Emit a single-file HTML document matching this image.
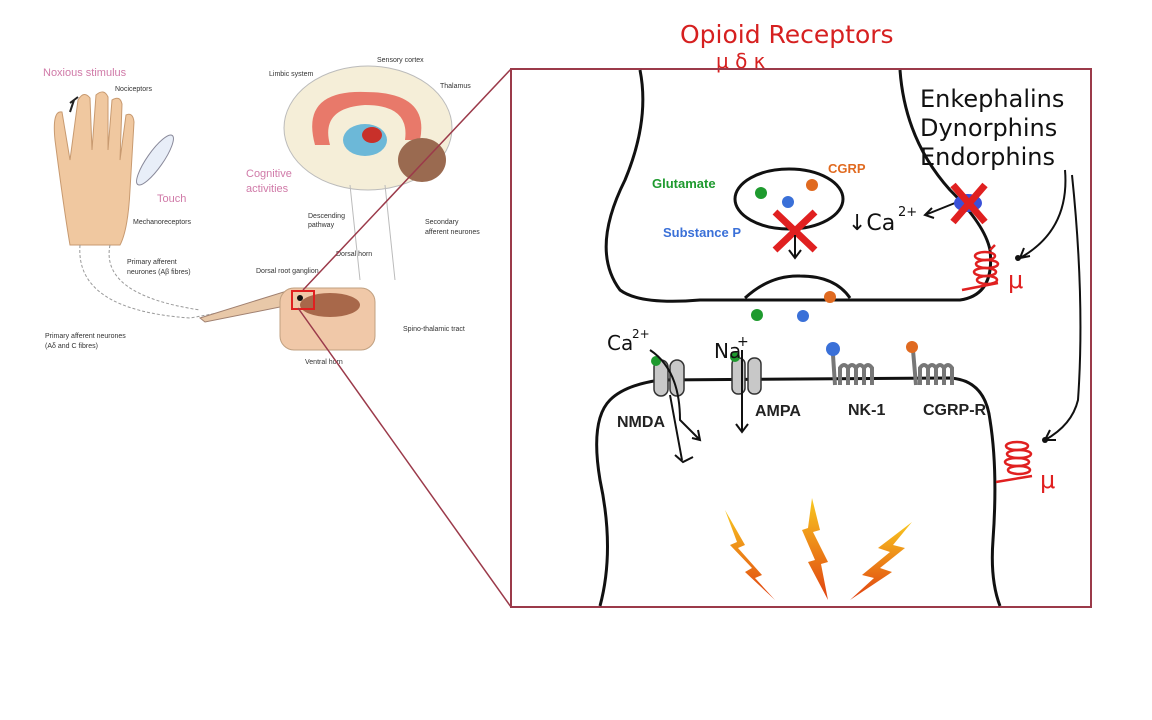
<!DOCTYPE html>
<html><head><meta charset="utf-8"><style>
html,body{margin:0;padding:0;background:#fff;}
svg{display:block}
.s{font-family:"Liberation Sans",sans-serif;font-size:7px;fill:#333}
.h{font-family:"Liberation Sans",sans-serif;font-weight:bold;font-size:16px;fill:#222}
.w{font-family:"DejaVu Sans","Liberation Sans",sans-serif;fill:#111}
</style></head><body>
<svg width="1152" height="720" viewBox="0 0 1152 720">
<rect width="1152" height="720" fill="#fff"/>
<text x="680" y="43" class="w" font-size="25" style="fill:#d62020">Opioid Receptors</text>
<text x="716" y="68" class="w" font-size="20" style="fill:#d62020">μ δ κ</text>

<!-- LEFT illustration -->
<text x="43" y="76" class="s" style="fill:#d07aa8;font-size:11px">Noxious stimulus</text>
<text x="115" y="91" class="s">Nociceptors</text>
<path d="M55,140 Q52,110 62,112 L70,160 L78,100 Q84,90 90,98 L92,150 L96,95 Q104,88 108,97 L108,150 L112,100 Q120,95 122,104 L120,160 L126,115 Q133,112 134,122 L130,190 Q128,230 120,245 L70,245 Q64,210 55,140Z" fill="#f0c8a0" stroke="#c89a70"/>
<path d="M70,103 l8,-6 M74,100 l-4,12" stroke="#222" stroke-width="2"/>
<ellipse cx="155" cy="160" rx="8" ry="30" transform="rotate(35 155 160)" fill="#e8eef8" stroke="#889"/>
<text x="157" y="202" class="s" style="fill:#d07aa8;font-size:11px">Touch</text>
<text x="133" y="224" class="s">Mechanoreceptors</text>
<text x="127" y="264" class="s">Primary afferent</text>
<text x="127" y="274" class="s">neurones (Aβ fibres)</text>
<text x="45" y="338" class="s">Primary afferent neurones</text>
<text x="45" y="348" class="s">(Aδ and C fibres)</text>
<path d="M80,245 Q75,310 190,318 L290,300 M110,245 Q100,295 200,310" fill="none" stroke="#999" stroke-dasharray="3,2"/>
<ellipse cx="368" cy="128" rx="84" ry="62" fill="#f5eed8" stroke="#bbb"/>
<path d="M315,145 Q300,90 365,92 Q430,92 420,140 L405,140 Q410,105 365,105 Q320,108 330,145Z" fill="#e8796a"/>
<ellipse cx="365" cy="140" rx="22" ry="16" fill="#6cb8d8"/>
<ellipse cx="372" cy="135" rx="10" ry="8" fill="#c8302a"/>
<ellipse cx="422" cy="160" rx="24" ry="22" fill="#9a6a50"/>
<path d="M350,185 L360,280 M385,185 L395,280" stroke="#bbb" fill="none"/>
<text x="269" y="76" class="s">Limbic system</text>
<text x="377" y="62" class="s">Sensory cortex</text>
<text x="440" y="88" class="s">Thalamus</text>
<text x="246" y="177" class="s" style="fill:#d07aa8;font-size:11px">Cognitive</text>
<text x="246" y="192" class="s" style="fill:#d07aa8;font-size:11px">activities</text>
<text x="308" y="218" class="s">Descending</text>
<text x="308" y="227" class="s">pathway</text>
<text x="425" y="224" class="s">Secondary</text>
<text x="425" y="234" class="s">afferent neurones</text>
<text x="336" y="256" class="s">Dorsal horn</text>
<text x="256" y="273" class="s">Dorsal root ganglion</text>
<text x="403" y="331" class="s">Spino-thalamic tract</text>
<text x="305" y="364" class="s">Ventral horn</text>
<path d="M200,318 L290,290 L290,305 L205,322Z" fill="#e8c8a8" stroke="#a08070"/>
<rect x="280" y="288" width="95" height="62" rx="14" fill="#f0c8a8" stroke="#c0a080"/>
<ellipse cx="330" cy="305" rx="30" ry="12" fill="#a8684a"/>
<rect x="292" y="291" width="22" height="18" fill="none" stroke="#e02020" stroke-width="2"/>
<circle cx="300" cy="298" r="3" fill="#111"/>
<line x1="303" y1="290" x2="511" y2="69" stroke="#9b3a4a" stroke-width="1.5"/>
<line x1="298" y1="308" x2="511" y2="607" stroke="#9b3a4a" stroke-width="1.5"/>

<rect x="511" y="69" width="580" height="538" fill="none" stroke="#9b3a4a" stroke-width="2"/>

<path d="M640,70 Q650,120 625,180 Q590,250 620,290 Q640,305 700,300 L960,300 Q995,295 990,250 Q985,225 950,190 Q905,140 900,70" fill="none" stroke="#111" stroke-width="3"/>
<path d="M745,298 Q770,275 800,276 Q835,276 850,298" fill="none" stroke="#111" stroke-width="3"/>
<path d="M600,606 Q615,550 600,480 Q590,420 610,400 Q625,385 660,380 L950,378 Q985,380 990,420 Q998,470 993,540 Q990,580 1000,606" fill="none" stroke="#111" stroke-width="3"/>
<ellipse cx="789" cy="199" rx="54" ry="30" fill="none" stroke="#111" stroke-width="3"/>
<circle cx="761" cy="193" r="6" fill="#1e9a2e"/>
<circle cx="788" cy="202" r="6" fill="#3a70d8"/>
<circle cx="812" cy="185" r="6" fill="#e06a20"/>
<path d="M775,212 L815,250 M815,212 L775,250" stroke="#e02020" stroke-width="7"/>
<path d="M795,235 L795,258 M789,250 L795,258 L801,250" stroke="#111" stroke-width="2" fill="none"/>
<text x="652" y="188" class="h" style="fill:#1e9a2e;font-size:13px">Glutamate</text>
<text x="828" y="173" class="h" style="fill:#e06a20;font-size:13px">CGRP</text>
<text x="663" y="237" class="h" style="fill:#3a70d8;font-size:13px">Substance P</text>
<text x="848" y="230" class="w" font-size="22">↓Ca</text><text x="898" y="216" class="w" font-size="13">2+</text>
<path d="M955,203 L925,215 M932,208 L925,215 L934,218" stroke="#111" stroke-width="2" fill="none"/>
<ellipse cx="968" cy="203" rx="14" ry="9" fill="#3a50d8"/>
<path d="M953,185 L985,222 M985,185 L953,222" stroke="#e02020" stroke-width="7"/>
<text x="920" y="107" class="w" font-size="24">Enkephalins</text>
<text x="920" y="136" class="w" font-size="24">Dynorphins</text>
<text x="920" y="165" class="w" font-size="24">Endorphins</text>
<path d="M1065,170 Q1070,230 1020,258 M1030,256 L1020,258 L1024,248" stroke="#111" stroke-width="2" fill="none"/>
<path d="M1072,175 Q1085,300 1078,400 Q1072,425 1045,440 M1056,440 L1045,440 L1050,430" stroke="#111" stroke-width="2" fill="none"/>
<g stroke="#e02020" stroke-width="2.5" fill="none">
<ellipse cx="985" cy="256" rx="10" ry="4"/><ellipse cx="987" cy="264" rx="11" ry="4"/><ellipse cx="985" cy="272" rx="11" ry="4"/><ellipse cx="987" cy="280" rx="10" ry="4"/>
<path d="M990,250 L995,245 M962,290 L998,283"/>
<ellipse cx="1017" cy="446" rx="11" ry="4"/><ellipse cx="1019" cy="454" rx="12" ry="4"/><ellipse cx="1017" cy="462" rx="12" ry="4"/><ellipse cx="1019" cy="470" rx="11" ry="4"/>
<path d="M996,482 L1032,476"/>
</g>
<circle cx="1018" cy="258" r="3" fill="#111"/><circle cx="1045" cy="440" r="3" fill="#111"/>
<text x="1008" y="288" class="w" font-size="24" style="fill:#e02020">μ</text>
<text x="1040" y="488" class="w" font-size="24" style="fill:#e02020">μ</text>
<circle cx="757" cy="315" r="6" fill="#1e9a2e"/>
<circle cx="803" cy="316" r="6" fill="#3a70d8"/>
<circle cx="830" cy="297" r="6" fill="#e06a20"/>
<g fill="#c8c8c8" stroke="#333" stroke-width="1.5">
<rect x="654" y="360" width="14" height="36" rx="7"/><rect x="670" y="360" width="14" height="36" rx="7"/>
<rect x="732" y="358" width="13" height="36" rx="6"/><rect x="748" y="358" width="13" height="36" rx="6"/>
</g>
<circle cx="656" cy="361" r="5" fill="#1e9a2e"/>
<circle cx="735" cy="357" r="5" fill="#1e9a2e"/>
<path d="M833,355 L835,385 M840,385 L840,368 q4,-6 8,0 L848,385 M848,368 q4,-6 8,0 L856,385 M856,368 q4,-6 8,0 L864,385 M864,368 q4,-6 8,0 L872,385" stroke="#777" stroke-width="4" fill="none"/>
<circle cx="833" cy="349" r="7" fill="#3a70d8"/>
<path d="M913,350 L916,385 M920,385 L920,368 q4,-6 8,0 L928,385 M928,368 q4,-6 8,0 L936,385 M936,368 q4,-6 8,0 L944,385 M944,368 q4,-6 8,0 L952,385" stroke="#777" stroke-width="4" fill="none"/>
<circle cx="912" cy="347" r="6" fill="#e06a20"/>
<text x="607" y="350" class="w" font-size="20">Ca</text><text x="632" y="338" class="w" font-size="12">2+</text>
<text x="714" y="358" class="w" font-size="20">Na</text><text x="737" y="346" class="w" font-size="14">+</text>
<path d="M650,350 Q680,370 680,420 L700,440 M692,438 L700,440 L698,430 M670,395 L682,460 M675,455 L683,462 L693,457" stroke="#111" stroke-width="2" fill="none"/>
<path d="M742,350 L742,432 M736,424 L742,432 L748,424" stroke="#111" stroke-width="2" fill="none"/>
<text x="617" y="427" class="h">NMDA</text>
<text x="755" y="416" class="h">AMPA</text>
<text x="848" y="415" class="h">NK-1</text>
<text x="923" y="415" class="h">CGRP-R</text>
<defs><linearGradient id="g" x1="0" y1="0" x2="0" y2="1"><stop offset="0" stop-color="#f8c820"/><stop offset="1" stop-color="#e04010"/></linearGradient></defs>
<path d="M725,510 L745,545 L738,548 L762,575 L755,578 L775,600 L745,572 L752,568 L730,545 L737,542Z" fill="url(#g)"/>
<path d="M812,498 L820,530 L813,532 L828,562 L821,564 L828,600 L808,562 L815,560 L802,530 L808,528Z" fill="url(#g)"/>
<path d="M912,522 L878,548 L890,552 L862,575 L874,578 L850,600 L892,572 L880,568 L905,548 L893,545Z" fill="url(#g)"/>
</svg>
</body></html>
